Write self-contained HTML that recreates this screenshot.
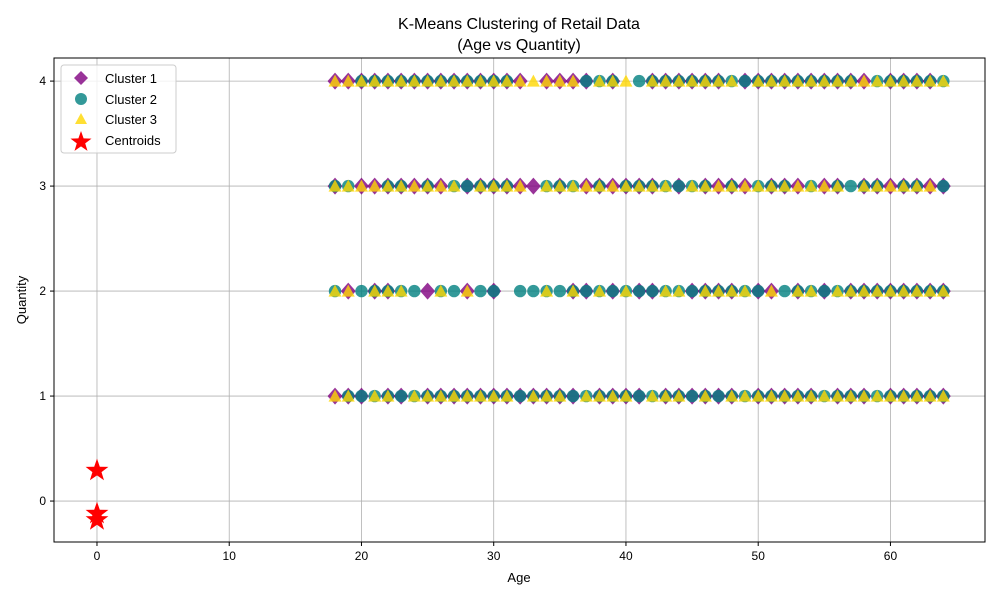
<!DOCTYPE html>
<html><head><meta charset="utf-8"><style>
body{margin:0;background:#fff;font-family:"Liberation Sans","DejaVu Sans",sans-serif}
</style></head><body>
<svg id="chart" width="1000" height="600" viewBox="0 0 1000 600" xmlns="http://www.w3.org/2000/svg" font-family="Liberation Sans, DejaVu Sans, sans-serif">
<rect width="1000" height="600" fill="#fff"/>
<text x="519" y="29" text-anchor="middle" font-size="16">K-Means Clustering of Retail Data</text>
<text x="519" y="50" text-anchor="middle" font-size="16">(Age vs Quantity)</text>
<g id="grid"></g>
<g id="marks"></g>
<rect x="54" y="58" width="931" height="484" fill="none" stroke="#000" stroke-width="1"/>
<g id="ticks"></g>
<text x="519" y="582" text-anchor="middle" font-size="13">Age</text>
<text transform="translate(26,300) rotate(-90)" text-anchor="middle" font-size="13">Quantity</text>
<g id="legend">
<rect x="61" y="65" width="115" height="88" rx="3" fill="#fff" fill-opacity="0.8" stroke="#ccc"/>
<polygon points="81,71 88,78 81,85 74,78" fill="#800080" fill-opacity="0.8"/>
<text x="105" y="83" font-size="13">Cluster 1</text>
<circle cx="81" cy="99" r="6" fill="#008080" fill-opacity="0.8"/>
<text x="105" y="104" font-size="13">Cluster 2</text>
<polygon points="81,113 87,124 75,124" fill="#FFD700" fill-opacity="0.8"/>
<text x="105" y="124" font-size="13">Cluster 3</text>
<polygon id="legstar" fill="red"/>
<text x="105" y="145" font-size="13">Centroids</text>
</g>
</svg>
<script>
const xTicks=[0,10,20,30,40,50,60];
const yTicks=[0,1,2,3,4];
const c1_q4=[18,19,20,21,22,23,24,25,26,27,28,29,30,31,32,34,35,36,37,39,42,43,44,45,46,47,49,50,51,52,53,54,55,56,57,58,60,61,62,63];
const c2_q4=[20,21,22,23,24,25,26,27,28,29,30,31,37,38,39,41,42,43,44,45,46,47,48,49,50,51,52,53,54,55,56,57,59,60,61,62,63,64];
const c3_q4=[18,19,20,21,22,23,24,25,26,27,28,29,30,31,32,33,34,35,36,38,39,40,42,43,44,45,46,47,48,50,51,52,53,54,55,56,57,58,59,60,61,62,63,64];
const c1_q3=[18,20,21,22,23,24,25,26,28,29,30,31,32,33,35,37,38,39,40,41,42,44,46,47,48,49,51,52,53,55,56,58,59,60,61,62,63,64];
const c2_q3=[18,19,22,23,25,27,28,29,30,31,34,35,36,38,40,41,42,43,44,45,46,48,50,51,52,54,56,57,58,59,61,62,64];
const c3_q3=[18,19,20,21,22,23,24,25,26,27,29,30,31,32,34,35,36,37,38,39,40,41,42,43,45,46,47,48,49,50,51,52,53,54,55,56,58,59,60,61,62,63];
const c1_q2=[19,21,22,25,28,30,36,37,39,41,42,45,46,47,48,50,51,53,55,57,58,59,60,61,62,63,64];
const c2_q2=[18,20,21,22,23,24,26,27,29,30,32,33,34,35,36,37,38,39,40,41,42,43,44,45,46,47,48,49,50,52,53,54,55,56,57,58,59,60,61,62,63,64];
const c3_q2=[18,19,21,22,23,26,28,34,36,38,40,43,44,46,47,48,49,51,53,54,56,57,58,59,60,61,62,63,64];
const c1_q1=[18,19,20,22,23,25,26,27,28,29,30,31,32,33,34,35,36,38,39,40,41,43,44,45,46,47,48,50,51,52,53,54,56,57,58,60,61,62,63,64];
const c2_q1=[19,20,21,22,23,24,25,26,27,28,29,30,31,32,33,34,35,36,37,38,39,40,41,42,43,44,45,46,47,48,49,50,51,52,53,54,55,56,57,58,59,60,61,62,63,64];
const c3_q1=[18,19,21,22,24,25,26,27,28,29,30,31,33,34,35,37,38,39,40,42,43,44,46,48,49,50,51,52,53,54,55,56,57,58,59,60,61,62,63,64];
const centroidAge=[0,0,0];
const centroidQty=[0.29,-0.12,-0.18];

const NS="http://www.w3.org/2000/svg";
const X0=54,X1=985,Y0=58,Y1=542,xmin=-3.25,xmax=67.15,ymin=-0.39,ymax=4.22;
const sx=v=>X0+(v-xmin)/(xmax-xmin)*(X1-X0);
const sy=v=>Y1-(v-ymin)/(ymax-ymin)*(Y1-Y0);
function mk(tag,attrs,parent){const e=document.createElementNS(NS,tag);for(const k in attrs)e.setAttribute(k,attrs[k]);parent.appendChild(e);return e;}
const grid=document.getElementById('grid'),ticks=document.getElementById('ticks'),marks=document.getElementById('marks');
xTicks.forEach(t=>{const x=sx(t);
 const g=mk('line',{x1:x,x2:x,y1:Y0,y2:Y1,stroke:'#b0b0b0','stroke-width':0.8},grid);
 
 
 mk('line',{x1:x,x2:x,y1:Y1,y2:Y1+4,stroke:'#000'},ticks);
 const l=mk('text',{x:x,y:Y1+18,'text-anchor':'middle','font-size':12},ticks);l.textContent=t;
 
 });
yTicks.forEach(t=>{const y=sy(t);
 const g=mk('line',{x1:X0,x2:X1,y1:y,y2:y,stroke:'#b0b0b0','stroke-width':0.8},grid);
 
 
 mk('line',{x1:X0-4,x2:X0,y1:y,y2:y,stroke:'#000'},ticks);
 const l=mk('text',{x:X0-8,y:y+4,'text-anchor':'end','font-size':12},ticks);l.textContent=t;
 
 });
function diamond(a,q){const x=sx(a),y=sy(q);
 const e=mk('polygon',{points:`${x},${y-8.5} ${x+7.5},${y} ${x},${y+8.5} ${x-7.5},${y}`,fill:'#800080','fill-opacity':0.8},marks);
 
 }
function circ(a,q){
 const e=mk('circle',{cx:sx(a),cy:sy(q),r:6.2,fill:'#008080','fill-opacity':0.8},marks);
 
 }
function tri(a,q){const x=sx(a),y=sy(q);
 const e=mk('polygon',{points:`${x},${y-6.5} ${x+6.5},${y+5.5} ${x-6.5},${y+5.5}`,fill:'#FFD700','fill-opacity':0.8},marks);
 
 }
function starPts(cx,cy,R){const r=R*0.4;let p=[];for(let i=0;i<10;i++){const ang=-Math.PI/2+i*Math.PI/5;const rr=i%2?r:R;p.push((cx+rr*Math.cos(ang)).toFixed(1)+','+(cy+rr*Math.sin(ang)).toFixed(1));}return p.join(' ');}
[[c1_q1,1],[c1_q2,2],[c1_q3,3],[c1_q4,4]].forEach(([arr,q])=>arr.forEach(a=>diamond(a,q)));
[[c2_q1,1],[c2_q2,2],[c2_q3,3],[c2_q4,4]].forEach(([arr,q])=>arr.forEach(a=>circ(a,q)));
[[c3_q1,1],[c3_q2,2],[c3_q3,3],[c3_q4,4]].forEach(([arr,q])=>arr.forEach(a=>tri(a,q)));
centroidAge.forEach((a,i)=>{
 const e=mk('polygon',{points:starPts(sx(a),sy(centroidQty[i]),12),fill:'red'},marks);
 
 });
document.getElementById('legstar').setAttribute('points',starPts(81,142,11));
</script>
</body></html>
